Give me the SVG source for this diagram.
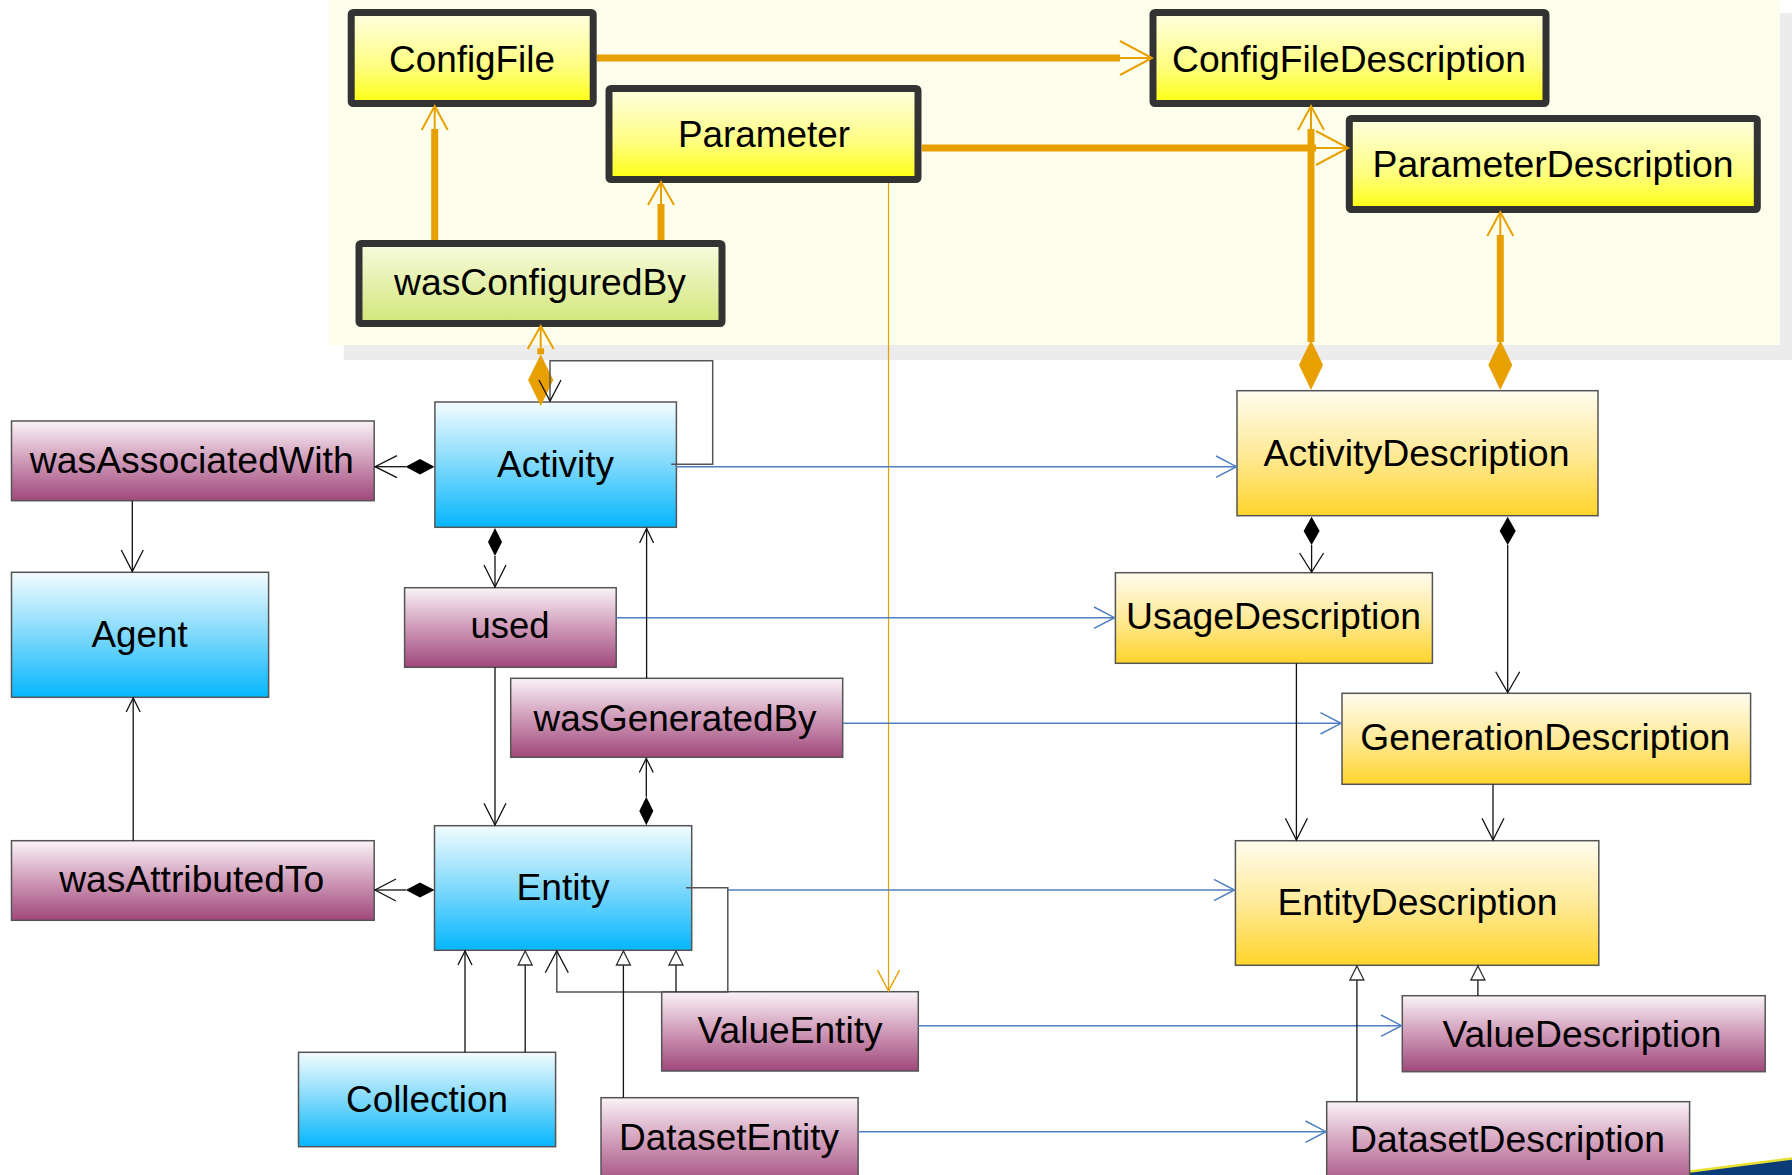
<svg xmlns="http://www.w3.org/2000/svg" width="1792" height="1175" viewBox="0 0 1792 1175">
<style>
  text { font-family: "Liberation Sans", Arial, sans-serif; font-size: 36px; fill: #000; text-anchor: middle; }
  .n { stroke: #555; stroke-width: 1.5; }
  .heavy { stroke: #333; stroke-width: 7; }
  .blue { fill: url(#gBlue); }
  .purp { fill: url(#gPurp); }
  .gold { fill: url(#gGold); }
  .yel { fill: url(#gYel); }
  .grn { fill: url(#gGrn); }
  .ob { stroke: #e8a000; stroke-width: 7; fill: none; }
  .ot { stroke: #e8a000; stroke-width: 2; fill: none; }
  .od { fill: #e8a000; stroke: none; }
  .bl { stroke: #4f7fbf; stroke-width: 1.5; fill: none; }
  .k { stroke: #111; stroke-width: 1.3; fill: none; }
  .kd { fill: #000; stroke: none; }
  .tri { fill: #fff; stroke: #333; stroke-width: 1.3; }
  .gr { stroke: #555; stroke-width: 1.5; fill: none; }
</style>
<defs>
  <linearGradient id="gBlue" x1="0" y1="0" x2="0" y2="1">
    <stop offset="0" stop-color="#f4fcff"/>
    <stop offset="0.5" stop-color="#7fd9fc"/>
    <stop offset="1" stop-color="#05b6fd"/>
  </linearGradient>
  <linearGradient id="gPurp" x1="0" y1="0" x2="0" y2="1">
    <stop offset="0" stop-color="#faf3f7"/>
    <stop offset="0.5" stop-color="#cf9ab8"/>
    <stop offset="1" stop-color="#a0487b"/>
  </linearGradient>
  <linearGradient id="gGold" x1="0" y1="0" x2="0" y2="1">
    <stop offset="0" stop-color="#fffcee"/>
    <stop offset="0.5" stop-color="#ffea99"/>
    <stop offset="1" stop-color="#ffd42a"/>
  </linearGradient>
  <linearGradient id="gYel" x1="0" y1="0" x2="0" y2="1">
    <stop offset="0" stop-color="#fefee2"/>
    <stop offset="0.6" stop-color="#fefe80"/>
    <stop offset="1" stop-color="#ffff10"/>
  </linearGradient>
  <linearGradient id="gGrn" x1="0" y1="0" x2="0" y2="1">
    <stop offset="0" stop-color="#f8fbde"/>
    <stop offset="1" stop-color="#d2e67a"/>
  </linearGradient>
</defs>

<g id="background">
  <rect x="0" y="0" width="1792" height="1175" fill="#fff"/>
  <rect x="1780" y="13" width="12" height="347" fill="#ececec"/>
  <rect x="343.7" y="345" width="1448.3" height="15" fill="#ececec"/>
  <rect x="328.7" y="0" width="1451" height="345" fill="#fefeec"/>
  <polygon points="1690,1175 1690,1172 1792,1159 1792,1175" fill="#0b3c78"/>
  <polyline points="1690,1171.5 1792,1158.5" stroke="#e8e030" stroke-width="2.5" fill="none"/>
</g>

<g id="node-ConfigFile">
  <rect class="heavy yel" x="351.2" y="12.5" width="242" height="91" rx="2"/>
  <text x="472" y="72" textLength="166" lengthAdjust="spacingAndGlyphs">ConfigFile</text>
</g>
<g id="node-Parameter">
  <rect class="heavy yel" x="609" y="88.5" width="309" height="91" rx="2"/>
  <text x="764" y="147" textLength="172" lengthAdjust="spacingAndGlyphs">Parameter</text>
</g>
<g id="node-wasConfiguredBy">
  <rect class="heavy grn" x="359" y="243.5" width="363" height="80" rx="2"/>
  <text x="540" y="295" textLength="292" lengthAdjust="spacingAndGlyphs">wasConfiguredBy</text>
</g>
<g id="node-ConfigFileDescription">
  <rect class="heavy yel" x="1153" y="12.5" width="393" height="91" rx="2"/>
  <text x="1349" y="72" textLength="354" lengthAdjust="spacingAndGlyphs">ConfigFileDescription</text>
</g>
<g id="node-ParameterDescription">
  <rect class="heavy yel" x="1349.3" y="118.5" width="408" height="91" rx="2"/>
  <text x="1553" y="177" textLength="361" lengthAdjust="spacingAndGlyphs">ParameterDescription</text>
</g>

<g id="node-wasAssociatedWith">
  <rect class="n purp" x="11.5" y="421" width="362.7" height="79.7"/>
  <text x="191.7" y="473" textLength="324" lengthAdjust="spacingAndGlyphs">wasAssociatedWith</text>
</g>
<g id="node-Activity">
  <rect class="n blue" x="434.9" y="402" width="241.5" height="125.3"/>
  <text x="555.5" y="476.7" textLength="117" lengthAdjust="spacingAndGlyphs">Activity</text>
</g>
<g id="node-Agent">
  <rect class="n blue" x="11.5" y="572.3" width="257.1" height="125"/>
  <text x="139.6" y="646.7" textLength="96" lengthAdjust="spacingAndGlyphs">Agent</text>
</g>
<g id="node-used">
  <rect class="n purp" x="404.6" y="587.7" width="211.6" height="79.6"/>
  <text x="510" y="638.3" textLength="79" lengthAdjust="spacingAndGlyphs">used</text>
</g>
<g id="node-wasGeneratedBy">
  <rect class="n purp" x="510.7" y="678.3" width="332" height="79"/>
  <text x="675" y="730.7" textLength="283" lengthAdjust="spacingAndGlyphs">wasGeneratedBy</text>
</g>
<g id="node-wasAttributedTo">
  <rect class="n purp" x="11.5" y="840.7" width="362.7" height="79.6"/>
  <text x="191.7" y="891.7" textLength="265" lengthAdjust="spacingAndGlyphs">wasAttributedTo</text>
</g>
<g id="node-Entity">
  <rect class="n blue" x="434.5" y="825.7" width="257.2" height="124.6"/>
  <text x="563" y="900" textLength="93" lengthAdjust="spacingAndGlyphs">Entity</text>
</g>
<g id="node-Collection">
  <rect class="n blue" x="298.5" y="1052.3" width="257.1" height="94.4"/>
  <text x="427" y="1111.7" textLength="162" lengthAdjust="spacingAndGlyphs">Collection</text>
</g>
<g id="node-ValueEntity">
  <rect class="n purp" x="661.7" y="991.7" width="256.6" height="79.3"/>
  <text x="790" y="1043.3" textLength="185" lengthAdjust="spacingAndGlyphs">ValueEntity</text>
</g>
<g id="node-DatasetEntity">
  <rect class="n purp" x="601" y="1097.7" width="257.1" height="90"/>
  <text x="729" y="1150" textLength="220" lengthAdjust="spacingAndGlyphs">DatasetEntity</text>
</g>

<g id="node-ActivityDescription">
  <rect class="n gold" x="1237" y="390.7" width="361" height="125"/>
  <text x="1416.5" y="466" textLength="306" lengthAdjust="spacingAndGlyphs">ActivityDescription</text>
</g>
<g id="node-UsageDescription">
  <rect class="n gold" x="1115.4" y="572.7" width="317" height="90.6"/>
  <text x="1273.5" y="629.3" textLength="295" lengthAdjust="spacingAndGlyphs">UsageDescription</text>
</g>
<g id="node-GenerationDescription">
  <rect class="n gold" x="1342" y="693.3" width="408.6" height="91"/>
  <text x="1545.3" y="750" textLength="370" lengthAdjust="spacingAndGlyphs">GenerationDescription</text>
</g>
<g id="node-EntityDescription">
  <rect class="n gold" x="1235.4" y="840.7" width="363.4" height="124.6"/>
  <text x="1417.4" y="915" textLength="280" lengthAdjust="spacingAndGlyphs">EntityDescription</text>
</g>
<g id="node-ValueDescription">
  <rect class="n purp" x="1402.3" y="995.7" width="362.9" height="76"/>
  <text x="1582" y="1046.7" textLength="279" lengthAdjust="spacingAndGlyphs">ValueDescription</text>
</g>
<g id="node-DatasetDescription">
  <rect class="n purp" x="1326.7" y="1101.7" width="362.9" height="90"/>
  <text x="1507.6" y="1151.7" textLength="315" lengthAdjust="spacingAndGlyphs">DatasetDescription</text>
</g>

<g id="connectors">
  <line class="ob" x1="597" y1="58" x2="1120" y2="58"/>
  <line class="ot" x1="1120" y1="58" x2="1152" y2="58"/>
  <polyline class="ot" points="1120,41 1152,58 1120,75"/>

  <line class="ob" x1="922" y1="148" x2="1316" y2="148"/>
  <line class="ot" x1="1316" y1="148" x2="1348" y2="148"/>
  <polyline class="ot" points="1316,131 1348,148 1316,165"/>

  <line class="ob" x1="434.7" y1="240" x2="434.7" y2="129"/>
  <line class="ot" x1="434.7" y1="129" x2="434.7" y2="106"/>
  <polyline class="ot" points="421.7,130 434.7,106 447.7,130"/>

  <line class="ob" x1="661" y1="240" x2="661" y2="204"/>
  <line class="ot" x1="661" y1="204" x2="661" y2="182"/>
  <polyline class="ot" points="648,205 661,182 674,205"/>

  <line class="ob" x1="1311" y1="342" x2="1311" y2="129"/>
  <line class="ot" x1="1311" y1="129" x2="1311" y2="106"/>
  <polyline class="ot" points="1298,130 1311,106 1324,130"/>
  <polygon class="od" points="1311,340 1323,365 1311,390 1299,365"/>

  <line class="ob" x1="1500.3" y1="342" x2="1500.3" y2="235"/>
  <line class="ot" x1="1500.3" y1="235" x2="1500.3" y2="212"/>
  <polyline class="ot" points="1487.3,236 1500.3,212 1513.3,236"/>
  <polygon class="od" points="1500.3,340 1512.3,365 1500.3,390 1488.3,365"/>

  <line class="ot" x1="540.7" y1="348.3" x2="540.7" y2="326"/>
  <polyline class="ot" points="527.7,349 540.7,326 553.7,349"/>
  <rect class="od" x="537.3" y="348.3" width="6.8" height="6"/>
  <polygon class="od" points="540.7,354.3 553.3,380 540.7,406 528.1,380"/>

  <line stroke="#e8a000" stroke-width="1.2" x1="888.5" y1="183" x2="888.5" y2="991"/>
  <polyline stroke="#e8a000" stroke-width="1.5" fill="none" points="877.5,970 888.5,991 899.5,970"/>

  <line class="bl" x1="676" y1="466.7" x2="1236" y2="466.7"/>
  <polyline class="bl" points="1216,456 1236.5,466.7 1216,477.4"/>
  <line class="bl" x1="616" y1="617.7" x2="1114.5" y2="617.7"/>
  <polyline class="bl" points="1094,607 1114.5,617.7 1094,628.4"/>
  <line class="bl" x1="842.7" y1="723.3" x2="1341" y2="723.3"/>
  <polyline class="bl" points="1320.5,712.6 1341,723.3 1320.5,734"/>
  <line class="bl" x1="727.8" y1="890" x2="1234.5" y2="890"/>
  <polyline class="bl" points="1214,879.3 1234.5,890 1214,900.7"/>
  <line class="bl" x1="918.3" y1="1025.7" x2="1401.5" y2="1025.7"/>
  <polyline class="bl" points="1381,1015 1401.5,1025.7 1381,1036.4"/>
  <line class="bl" x1="858.1" y1="1131.7" x2="1326" y2="1131.7"/>
  <polyline class="bl" points="1305.5,1121 1326,1131.7 1305.5,1142.4"/>

  <line class="k" x1="375" y1="466.7" x2="406" y2="466.7"/>
  <polyline class="k" points="397,455.7 375,466.7 397,477.7"/>
  <polygon class="kd" points="434.5,466.7 420,459 405.5,466.7 420,474.4"/>
  <line class="k" x1="132.3" y1="500.7" x2="132.3" y2="571.5"/>
  <polyline class="k" points="121.3,550 132.3,571.5 143.3,550"/>
  <polyline class="gr" points="671.3,464.3 712.7,464.3 712.7,360.7 550,360.7 550,401"/>
  <polyline class="k" points="539,380 550,401 561,380"/>
  <polygon class="kd" points="495,528 502,542 495,556 488,542"/>
  <line class="k" x1="495" y1="556" x2="495" y2="587"/>
  <polyline class="k" points="484,565 495,587 506,565"/>
  <line class="k" x1="646.6" y1="678.3" x2="646.6" y2="528.5"/>
  <polyline class="k" points="639.6,543 646.6,528.5 653.6,543"/>
  <line class="k" x1="495" y1="667.3" x2="495" y2="825"/>
  <polyline class="k" points="484,803.3 495,825 506,803.3"/>
  <polygon class="kd" points="646.3,796.7 653.3,811 646.3,825.3 639.3,811"/>
  <line class="k" x1="646.3" y1="796.7" x2="646.3" y2="758.5"/>
  <polyline class="k" points="639.3,772.5 646.3,758.5 653.3,772.5"/>
  <line class="k" x1="133.2" y1="840.7" x2="133.2" y2="698"/>
  <polyline class="k" points="126.2,712 133.2,698 140.2,712"/>
  <line class="k" x1="375" y1="890" x2="406" y2="890"/>
  <polyline class="k" points="396,879 375,890 396,901"/>
  <polygon class="kd" points="434.5,890 420,882.5 405.8,890 420,897.5"/>
  <polyline class="gr" points="686,887.7 727.8,887.7 727.8,992 556.8,992 556.8,951"/>
  <polyline class="k" points="545.3,972.7 556.8,951 568.3,972.7"/>
  <line class="k" x1="465" y1="1052.3" x2="465" y2="951"/>
  <polyline class="k" points="458,965 465,951 472,965"/>
  <line class="k" x1="525.2" y1="1052.3" x2="525.2" y2="965"/>
  <polygon class="tri" points="518.2,965 525.2,951 532.2,965"/>
  <line class="k" x1="623.4" y1="1097.7" x2="623.4" y2="965"/>
  <polygon class="tri" points="616.4,965 623.4,951 630.4,965"/>
  <line class="k" x1="676" y1="991.7" x2="676" y2="965"/>
  <polygon class="tri" points="669,965 676,951 683,965"/>
  <polygon class="kd" points="1311.6,516.7 1319.6,531 1311.6,545 1303.6,531"/>
  <line class="k" x1="1311.6" y1="545" x2="1311.6" y2="572"/>
  <polyline class="k" points="1299.6,553 1311.6,572 1323.6,553"/>
  <polygon class="kd" points="1507.7,516.7 1515.7,531 1507.7,545 1499.7,531"/>
  <line class="k" x1="1507.7" y1="545" x2="1507.7" y2="692.5"/>
  <polyline class="k" points="1495.7,671.7 1507.7,692.5 1519.7,671.7"/>
  <line class="k" x1="1296.4" y1="663.3" x2="1296.4" y2="840"/>
  <polyline class="k" points="1285.4,818.3 1296.4,840 1307.4,818.3"/>
  <line class="k" x1="1493" y1="784.3" x2="1493" y2="840"/>
  <polyline class="k" points="1482,818.3 1493,840 1504,818.3"/>
  <line class="k" x1="1477.9" y1="995.7" x2="1477.9" y2="980"/>
  <polygon class="tri" points="1470.9,980 1477.9,966 1484.9,980"/>
  <line class="k" x1="1356.9" y1="1101.7" x2="1356.9" y2="980"/>
  <polygon class="tri" points="1349.9,980 1356.9,966 1363.9,980"/>
</g>
</svg>
